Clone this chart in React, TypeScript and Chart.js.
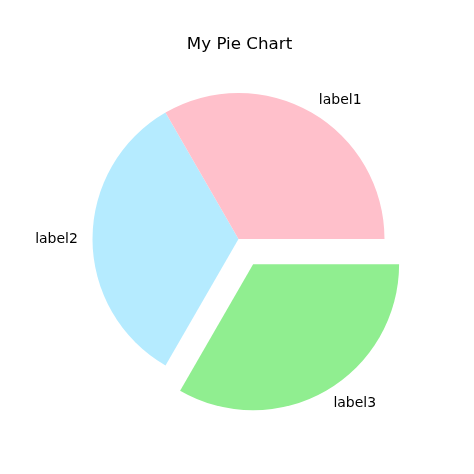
import React, { useEffect, useRef } from "react";
import { Chart, registerables } from "chart.js";

Chart.register(...registerables);

const labels = ["label1", "label2", "label3"];
const values = [1, 1, 1];
const explode = [0, 0, 0.2];
const colors = ["#FFC0CB", "#B5EBFF", "#90EE90"];
const title = "My Pie Chart";

const FONT = "'DejaVu Sans', sans-serif";
const RADIUS = 146;
const LABEL_DIST = 1.1;

// Chart.js draws clockwise from the top; matplotlib draws counter-clockwise
// from 3 o'clock. Reversing the order with a 90° rotation gives the same picture.
const order = labels.map((_, i) => labels.length - 1 - i);

const piePlugin = {
  id: "mplPie",
  afterDatasetsUpdate(chart: any) {
    const meta = chart.getDatasetMeta(0);
    const area = chart.chartArea;
    const cx = (area.left + area.right) / 2;
    const cy = (area.top + area.bottom) / 2;
    meta.data.forEach((arc: any, i: number) => {
      const ex = explode[order[i]];
      const mid = (arc.startAngle + arc.endAngle) / 2;
      arc.x = cx + ex * arc.outerRadius * Math.cos(mid);
      arc.y = cy + ex * arc.outerRadius * Math.sin(mid);
    });
  },
  afterDraw(chart: any) {
    const ctx = chart.ctx;
    const meta = chart.getDatasetMeta(0);
    ctx.save();
    ctx.fillStyle = "#000000";
    ctx.font = `14px ${FONT}`;
    ctx.textBaseline = "middle";
    meta.data.forEach((arc: any, i: number) => {
      const mid = (arc.startAngle + arc.endAngle) / 2;
      const c = Math.cos(mid);
      const x = arc.x + LABEL_DIST * arc.outerRadius * c;
      const y = arc.y + LABEL_DIST * arc.outerRadius * Math.sin(mid);
      ctx.textAlign = c > 0 ? "left" : "right";
      ctx.fillText(labels[order[i]], x, y);
    });
    ctx.font = `16.7px ${FONT}`;
    ctx.textAlign = "center";
    ctx.textBaseline = "alphabetic";
    ctx.fillText(title, 239.5, 48.5);
    ctx.restore();
  },
};

export default function App() {
  const ref = useRef<HTMLCanvasElement | null>(null);

  useEffect(() => {
    document.body.style.margin = "0";
    if (!ref.current) return;
    const chart = new Chart(ref.current, {
      type: "pie",
      data: {
        labels: order.map((i) => labels[i]),
        datasets: [
          {
            data: order.map((i) => values[i]),
            backgroundColor: order.map((i) => colors[i]),
            borderWidth: 0,
          },
        ],
      },
      options: {
        animation: false,
        responsive: false,
        events: [],
        rotation: 90,
        radius: RADIUS,
        layout: { padding: { left: 3, top: 4, right: 0, bottom: 0 } },
        plugins: {
          legend: { display: false },
          title: { display: false },
          tooltip: { enabled: false },
        },
      },
      plugins: [piePlugin],
    });
    return () => chart.destroy();
  }, []);

  return (
    <div style={{ width: 474, height: 474, background: "#ffffff" }}>
      <canvas ref={ref} width={474} height={474} style={{ display: "block" }} />
    </div>
  );
}
